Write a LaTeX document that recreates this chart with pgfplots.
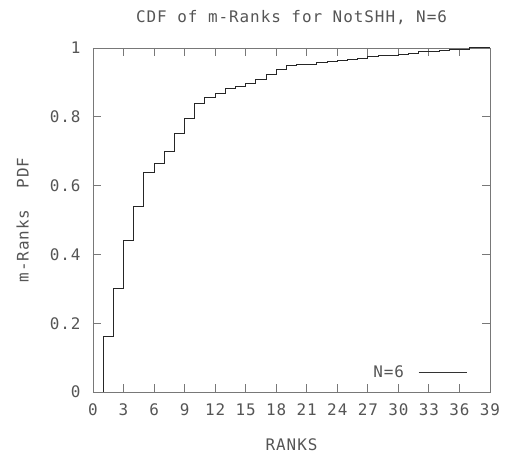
\documentclass[border=0pt]{standalone}
\usepackage{fontspec}
\setmainfont[LetterSpace=6]{DejaVu Sans Mono}
\usepackage{pgfplots}
\pgfplotsset{compat=1.18}
\definecolor{frame}{RGB}{120,120,120}
\definecolor{ink}{RGB}{85,85,85}
\begin{document}
\begin{tikzpicture}
  % CDF des m-rangs, N=6
  \begin{axis}[
      name=ax,
      scale only axis,
      width=397bp, height=344bp,
      xmin=0, xmax=39, ymin=0, ymax=1,
      xtick={0,3,...,39},
      ytick={0,0.2,0.4,0.6,0.8,1},
      yticklabels={0,0.2,0.4,0.6,0.8,1},
      /pgf/number format/assume math mode=true,
      tick align=inside,
      major tick length=8bp,
      axis line style={frame, line width=0.9bp},
      every tick/.style={frame, line width=0.9bp},
      font=\fontsize{16}{18}\selectfont,
      tick label style={ink},
      label style={ink},
      title style={ink, yshift=14bp},
      title={CDF of m-Ranks for NotSHH, N=6},
      xlabel={RANKS},
      ylabel={m-Ranks\ \ PDF},
      xlabel style={yshift=-16bp},
      ylabel style={yshift=14bp},
      xticklabel style={yshift=-8bp},
      yticklabel style={xshift=-9bp},
      legend style={draw=none, fill=none, at={(0.95,0.058)}, anchor=east,
        legend plot pos=right, column sep=12bp,
        font=\fontsize{16}{18}\selectfont, text=ink},
      legend image code/.code={\draw[black!80, line width=0.9bp] (0bp,0bp) -- (48bp,0bp);},
    ]
    \addplot[const plot, black!85, line width=1bp] coordinates {
      (1,0) (1,0.16) (2,0.30) (3,0.44) (4,0.54) (5,0.637) (6,0.665)
      (7,0.699) (8,0.752) (9,0.795) (10,0.838) (11,0.856) (12,0.869)
      (13,0.882) (14,0.887) (15,0.898) (16,0.909) (17,0.924) (18,0.938)
      (19,0.948) (20,0.951) (21,0.953) (22,0.958) (23,0.961) (24,0.964)
      (25,0.967) (26,0.970) (27,0.975) (28,0.977) (29,0.979) (30,0.982)
      (31,0.985) (32,0.989) (33,0.991) (34,0.994) (35,0.997) (37,1.0)
      (39,1.0)
    };
    \addlegendentry{N=6}
  \end{axis}
  \path ([xshift=-93bp,yshift=-64bp]ax.south west) rectangle ([xshift=19bp,yshift=48bp]ax.north east);
\end{tikzpicture}
\end{document}
